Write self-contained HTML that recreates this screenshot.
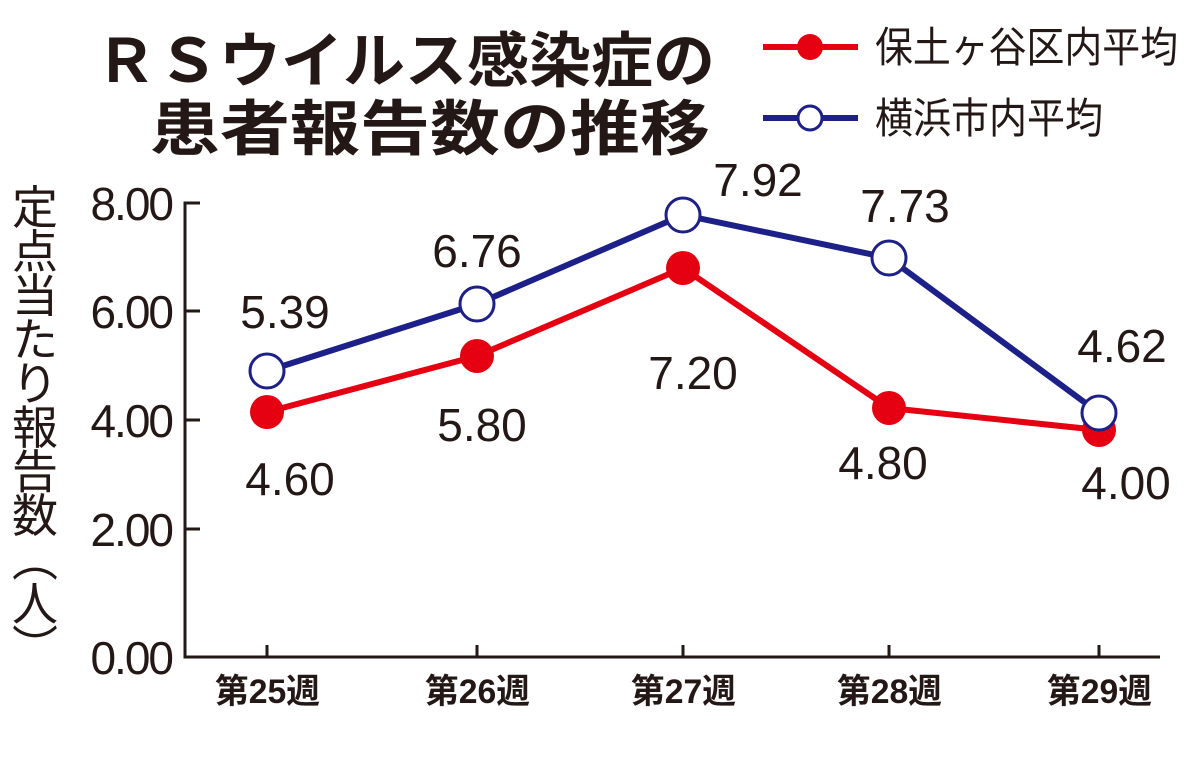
<!DOCTYPE html>
<html><head><meta charset="utf-8"><style>
body{margin:0;background:#fff}
svg text{font-family:"Liberation Sans","Noto Sans CJK JP",sans-serif;fill:#231815}
</style></head><body>
<svg width="1200" height="753" viewBox="0 0 1200 753" xmlns="http://www.w3.org/2000/svg">
<g font-weight="bold" font-size="60">
<text x="95" y="82" textLength="620" lengthAdjust="spacingAndGlyphs">ＲＳウイルス感染症の</text>
<text x="150" y="150" textLength="560" lengthAdjust="spacingAndGlyphs">患者報告数の推移</text>
</g>
<g stroke-width="6">
<line x1="763" y1="47" x2="858" y2="47" stroke="#e50012"/>
<circle cx="810" cy="47" r="13" fill="#e50012"/>
<line x1="763" y1="118" x2="858" y2="118" stroke="#1d2088"/>
<circle cx="810" cy="118" r="12" fill="#fff" stroke="#1d2088" stroke-width="3"/>
</g>
<g font-size="42">
<text x="875" y="62" textLength="303" lengthAdjust="spacingAndGlyphs">保土ヶ谷区内平均</text>
<text x="875" y="133" textLength="228" lengthAdjust="spacingAndGlyphs">横浜市内平均</text>
</g>
<g font-size="46">
<text x="12" y="224">定</text><text x="12" y="268">点</text><text x="12" y="312">当</text><text x="12" y="356">た</text><text x="12" y="400">り</text><text x="12" y="444">報</text><text x="12" y="488">告</text><text x="12" y="532">数</text>
<text x="12" y="576">︵</text><text x="12" y="620">人</text><text x="12" y="664">︶</text>
</g>
<g font-size="46" text-anchor="end" letter-spacing="-2">
<text x="172" y="220">8.00</text><text x="172" y="328">6.00</text><text x="172" y="437">4.00</text><text x="172" y="546">2.00</text><text x="172" y="674">0.00</text>
</g>
<g stroke="#231815" stroke-width="3" fill="none">
<polyline points="200,203 185,203 185,657 1160,657"/>
<line x1="185" y1="311" x2="200" y2="311"/><line x1="185" y1="420" x2="200" y2="420"/><line x1="185" y1="529" x2="200" y2="529"/>
<line x1="267" y1="657" x2="267" y2="645"/><line x1="477" y1="657" x2="477" y2="645"/><line x1="683" y1="657" x2="683" y2="645"/><line x1="889" y1="657" x2="889" y2="645"/><line x1="1099" y1="657" x2="1099" y2="645"/>
</g>
<g font-size="34" font-weight="bold">
<text x="215" y="703" textLength="105" lengthAdjust="spacingAndGlyphs">第25週</text>
<text x="425" y="703" textLength="105" lengthAdjust="spacingAndGlyphs">第26週</text>
<text x="631" y="703" textLength="105" lengthAdjust="spacingAndGlyphs">第27週</text>
<text x="837" y="703" textLength="105" lengthAdjust="spacingAndGlyphs">第28週</text>
<text x="1047" y="703" textLength="105" lengthAdjust="spacingAndGlyphs">第29週</text>
</g>
<polyline points="267,412 477,356 683,268 889,408 1099,430" fill="none" stroke="#e50012" stroke-width="6"/>
<g fill="#e50012"><circle cx="267" cy="412" r="17"/><circle cx="477" cy="356" r="17"/><circle cx="683" cy="268" r="17"/><circle cx="889" cy="408" r="17"/><circle cx="1099" cy="430" r="17"/></g>
<polyline points="267,371 477,304 683,215 889,258 1099,413" fill="none" stroke="#1d2088" stroke-width="6"/>
<g fill="#fff" stroke="#1d2088" stroke-width="3"><circle cx="267" cy="371" r="17"/><circle cx="477" cy="304" r="17"/><circle cx="683" cy="215" r="17"/><circle cx="889" cy="258" r="17"/><circle cx="1099" cy="413" r="17"/></g>
<g font-size="46" text-anchor="middle">
<text x="285" y="328">5.39</text><text x="290" y="495">4.60</text>
<text x="477" y="267">6.76</text><text x="482" y="441">5.80</text>
<text x="758" y="196">7.92</text><text x="693" y="389">7.20</text>
<text x="905" y="222">7.73</text><text x="883" y="479">4.80</text>
<text x="1122" y="362">4.62</text><text x="1126" y="499">4.00</text>
</g>
</svg>
</body></html>
